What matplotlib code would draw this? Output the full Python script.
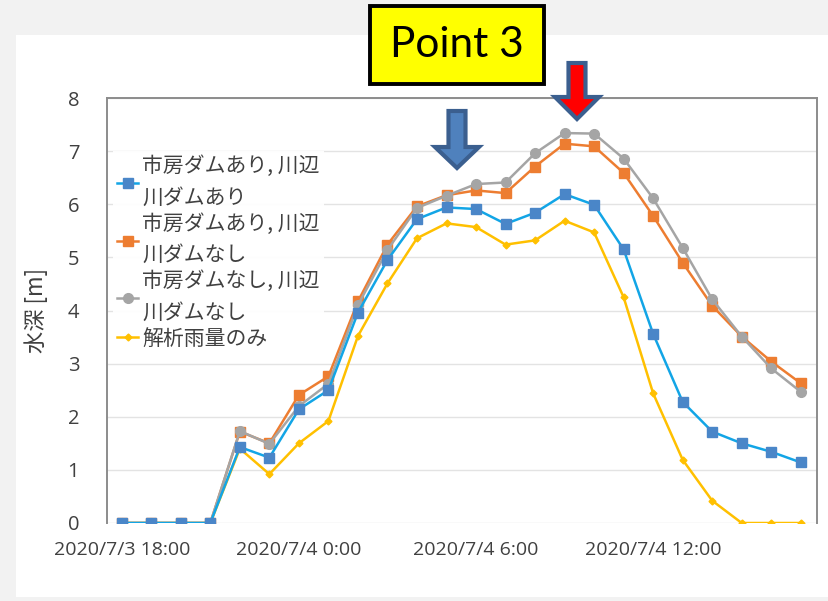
"""Water depth at Point 3 under different dam scenarios (2020-07-03/04)."""

import matplotlib
matplotlib.use("Agg")
import matplotlib.pyplot as plt
from matplotlib.patches import Polygon, Rectangle

# --- Data (hourly, starting 2020/7/3 18:00) ---
hours = list(range(24))
tick_hours = [0, 6, 12, 18]
tick_labels = ["2020/7/3 18:00", "2020/7/4 0:00", "2020/7/4 6:00", "2020/7/4 12:00"]

dam_both = [0, 0, 0, 0, 1.43, 1.23, 2.14, 2.50, 3.96, 4.95, 5.72, 5.94,
            5.91, 5.63, 5.84, 6.19, 5.99, 5.15, 3.56, 2.28, 1.72, 1.50, 1.34, 1.14]
dam_ichifusa = [0, 0, 0, 0, 1.72, 1.50, 2.41, 2.76, 4.17, 5.24, 5.96, 6.17,
                6.26, 6.21, 6.71, 7.14, 7.09, 6.59, 5.78, 4.90, 4.09, 3.51, 3.04, 2.63]
dam_none = [0, 0, 0, 0, 1.73, 1.49, 2.20, 2.62, 4.10, 5.14, 5.93, 6.16,
            6.38, 6.41, 6.96, 7.34, 7.33, 6.86, 6.11, 5.18, 4.21, 3.51, 2.91, 2.47]
rain_only = [0, 0, 0, 0, 1.40, 0.92, 1.50, 1.92, 3.52, 4.51, 5.36, 5.64,
             5.57, 5.24, 5.32, 5.69, 5.47, 4.25, 2.44, 1.19, 0.42, 0, 0, 0]

labels = [
    "市房ダムあり, 川辺\n川ダムあり",
    "市房ダムあり, 川辺\n川ダムなし",
    "市房ダムなし, 川辺\n川ダムなし",
    "解析雨量のみ",
]

plt.rcParams["font.family"] = ["Noto Sans CJK JP", "DejaVu Sans"]

fig = plt.figure(figsize=(8.29, 6.01), dpi=100, facecolor="#f2f2f2")
W, H = 829, 601


def px(x, y):
    return (x / W, 1 - y / H)


# white card behind the chart
fig.patches.append(Rectangle(px(16, 597), (W - 16) / W, (597 - 35) / H,
                             transform=fig.transFigure, facecolor="white",
                             edgecolor="none", zorder=-1))

ax = fig.add_axes([107 / W, 1 - 523 / H, (817 - 107) / W, (523 - 98) / H])
ax.set_facecolor("white")

ax.plot(hours, dam_both, color="#12a5e6", lw=1.8, marker="s", ms=6.5,
        mfc="#4a86c8", mec="#4a86c8", label=labels[0], zorder=5)
ax.plot(hours, dam_ichifusa, color="#ed7d31", lw=1.8, marker="s", ms=6.5,
        mfc="#ed7d31", mec="#ed7d31", label=labels[1], zorder=3)
ax.plot(hours, dam_none, color="#a5a5a5", lw=1.8, marker="o", ms=7,
        mfc="#a5a5a5", mec="#a5a5a5", label=labels[2], zorder=4)
ax.plot(hours, rain_only, color="#ffc000", lw=1.8, marker="D", ms=3.5,
        mfc="#ffc000", mec="#ffc000", label=labels[3], zorder=2)

ax.set_xlim(-0.5, 23.55)
ax.set_ylim(0, 8)
ax.set_xticks(tick_hours)
ax.set_xticklabels(tick_labels, family=["Open Sans"], fontsize=14, color="#404040")
ax.set_yticks(range(9))
ax.set_yticklabels([str(v) for v in range(9)], family=["Open Sans"], fontsize=14.5, color="#404040")
ax.tick_params(axis="x", length=0, pad=13)
ax.tick_params(axis="y", length=0, pad=20)
ax.grid(axis="y", color="#e3e3e3", lw=1)
ax.set_axisbelow(True)
for s in ["left", "right", "top"]:
    ax.spines[s].set_color("#8c8c8c")
    ax.spines[s].set_linewidth(1.4)
ax.spines["bottom"].set_visible(False)

ax.set_ylabel("水深 [m]", fontsize=16, color="#404040", labelpad=14)

leg = ax.legend(loc="upper left", bbox_to_anchor=(0.0, 0.89), fontsize=15,
                frameon=True, fancybox=False, handlelength=1.0, handletextpad=0.2,
                labelspacing=0.2, borderpad=0.2, borderaxespad=0.3)
leg.get_frame().set_facecolor("white")
leg.get_frame().set_edgecolor("none")
leg.get_frame().set_alpha(0.95)
for t in leg.get_texts():
    t.set_color("#404040")
    t.set_linespacing(1.55)

# "Point 3" title box
fig.text(457 / W, 1 - 45 / H, "Point 3", ha="center", va="center", fontsize=30.5,
         family=["Lato"], color="black",
         bbox=dict(boxstyle="square,pad=0.47", facecolor="#ffff00",
                   edgecolor="black", linewidth=2.8))


def down_arrow(cx, top, head_top, tip, shaft_w, head_w, fill):
    pts = [(cx - shaft_w / 2, top), (cx + shaft_w / 2, top),
           (cx + shaft_w / 2, head_top), (cx + head_w / 2, head_top),
           (cx, tip), (cx - head_w / 2, head_top), (cx - shaft_w / 2, head_top)]
    fig.patches.append(Polygon([px(x, y) for x, y in pts], closed=True,
                               transform=fig.transFigure, facecolor=fill,
                               edgecolor="#3b5f8f", linewidth=3, zorder=10))


down_arrow(457, 111, 147, 168, 17, 44, "#4f81bd")
down_arrow(577, 63, 97, 119, 17, 44, "#ff0000")

fig.savefig("out.png", dpi=100, facecolor=fig.get_facecolor())
